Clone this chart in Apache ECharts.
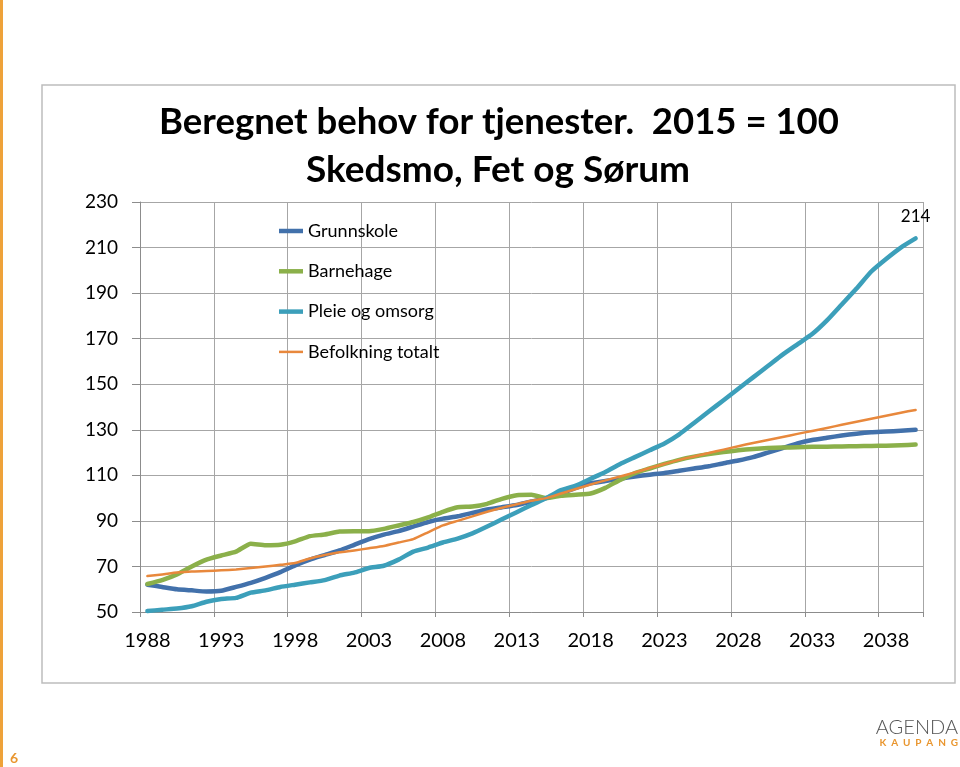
<!DOCTYPE html>
<html>
<head>
<meta charset="utf-8">
<script src="https://cdn.jsdelivr.net/npm/echarts@6/dist/echarts.min.js"></script>
<style>
html,body{margin:0;padding:0;background:#fff;}
#chart{width:960px;height:767px;}
</style>
</head>
<body>
<div id="chart"></div>
<script>
const years = [];
for (let y = 1988; y <= 2040; y++) years.push(String(y));

const yTicks = [50, 70, 90, 110, 130, 150, 170, 190, 210, 230];

const grunnskole = [62, 61, 60, 59.5, 59, 59.3, 61, 62.8, 65, 67.5, 70.5, 73, 75, 77, 79.5, 82, 84, 85.5, 87.5, 89.5,
  91, 92, 93.5, 95, 96, 97, 98.5, 100, 102, 104.5, 106.5, 107.5, 108.5, 109.5, 110.3, 111, 112, 113, 114, 115.3,
  116.5, 118, 120, 122, 124, 125.5, 126.5, 127.5, 128.3, 128.9, 129.2, 129.6, 130];

const barnehage = [62.3, 64, 66.5, 70, 73, 74.8, 76.5, 80, 79.3, 79.5, 81, 83.3, 84, 85.3, 85.5, 85.5, 86.5, 88, 89.5, 91.5,
  94, 96, 96.3, 97.5, 99.7, 101.3, 101.5, 100, 101, 101.5, 102, 104.5, 108, 111, 113, 115, 116.8, 118.2, 119.3, 120.2,
  121, 121.6, 122, 122.2, 122.3, 122.5, 122.6, 122.7, 122.8, 122.9, 123, 123.2, 123.5];

const pleie = [50.4, 51, 51.5, 52.5, 54.5, 55.7, 56.2, 58.5, 59.5, 61, 62, 63, 64, 66, 67.3, 69.3, 70.3, 73, 76.5, 78.3,
  80.5, 82.2, 84.5, 87.5, 90.7, 93.8, 97, 100, 103.5, 105.5, 108.5, 111.5, 115, 118, 121, 124, 128, 133, 138, 143,
  148, 153, 158, 163, 167.5, 172, 178, 185, 192, 199.5, 205, 210, 214];

const befolkning = [65.8, 66.5, 67.3, 67.8, 68, 68.3, 68.7, 69.3, 70, 70.7, 71.5, 73.5, 75, 76.2, 77, 78, 79, 80.5, 82, 85,
  88, 90, 92, 94, 95.8, 97.3, 98.8, 100, 102, 104, 106, 107.8, 109.5, 111.3, 113.2, 115, 116.8, 118.3, 119.8, 121.3,
  122.8, 124.2, 125.5, 126.8, 128.2, 129.5, 130.8, 132.2, 133.5, 134.8, 136.2, 137.5, 138.7];

const seriesNames = ['Grunnskole', 'Barnehage', 'Pleie og omsorg', 'Befolkning totalt'];
const titleLines = ['Beregnet behov for tjenester.  2015 = 100', 'Skedsmo, Fet og Sørum'];

const FONT = 'Lato, "Open Sans", sans-serif';
const colors = ['#4271ab', '#8bb04a', '#3c9fba', '#e8883c'];
const lineWidths = [4.5, 4.5, 4.5, 2.5];

const THICK_ICON = 'path://M0,0M24,14M0,4.75L24,4.75L24,9.25L0,9.25Z';
const THIN_ICON = 'path://M0,0M24,14M0,5.75L24,5.75L24,8.25L0,8.25Z';

const chart = echarts.init(document.getElementById('chart'), null, {renderer: 'canvas'});

function lineSeries(name, data, color, width, withEndLabel) {
  const last = data.length - 1;
  const s = {
    name: name,
    type: 'line',
    data: data,
    symbol: 'none',
    smooth: 0.15,
    color: color,
    lineStyle: {color: color, width: width, cap: 'round', join: 'round'},
    itemStyle: {color: color},
    emphasis: {disabled: true},
    z: 3
  };
  if (withEndLabel) {
    s.markPoint = {
      symbol: 'circle',
      symbolSize: 0,
      silent: true,
      data: [{
        coord: [years[last], data[last]],
        value: data[last],
        label: {show: true, position: 'top', distance: 13, formatter: '{c}', color: '#000', fontSize: 17, fontFamily: FONT}
      }]
    };
  }
  return s;
}

chart.setOption({
  animation: false,
  backgroundColor: '#fff',
  grid: {left: 140, right: 37, top: 202, bottom: 155, containLabel: false},
  legend: {
    orient: 'vertical',
    left: 274,
    top: 217,
    itemWidth: 24,
    itemHeight: 14,
    itemGap: 22.3,
    itemStyle: {borderWidth: 0},
    textStyle: {fontSize: 18, fontFamily: FONT, color: '#000'},
    data: seriesNames.map((n, i) => ({name: n, icon: lineWidths[i] > 3 ? THICK_ICON : THIN_ICON, itemStyle: {color: colors[i]}}))
  },
  xAxis: {
    type: 'category',
    data: years,
    boundaryGap: true,
    axisLine: {show: true, lineStyle: {color: '#8c8c8c', width: 1}},
    axisTick: {show: true, interval: 4, length: 5, lineStyle: {color: '#8c8c8c'}},
    axisLabel: {interval: 4, margin: 19, fontSize: 20, fontFamily: FONT, color: '#000'},
    splitLine: {show: true, interval: 4, lineStyle: {color: '#a6a6a6', width: 1}}
  },
  yAxis: {
    type: 'value',
    min: yTicks[0],
    max: yTicks[yTicks.length - 1],
    interval: 20,
    axisLine: {show: true, lineStyle: {color: '#8c8c8c', width: 1}},
    axisTick: {show: true, length: 8, lineStyle: {color: '#8c8c8c'}},
    axisLabel: {margin: 22, fontSize: 19, fontFamily: FONT, color: '#000'},
    splitLine: {show: true, lineStyle: {color: '#a6a6a6', width: 1}}
  },
  graphic: [
    {type: 'rect', shape: {x: 42, y: 85, width: 913, height: 598}, style: {fill: 'none', stroke: '#bdbdbd', lineWidth: 1.5}, z: -1},
    {type: 'rect', shape: {x: 0, y: 0, width: 3, height: 767}, style: {fill: '#eea23a'}},
    {type: 'text', x: 499, y: 122, style: {text: titleLines[0], font: 'bold 36.5px ' + FONT, fill: '#000', textAlign: 'center', textVerticalAlign: 'middle'}},
    {type: 'text', x: 498, y: 170, style: {text: titleLines[1], font: 'bold 37px ' + FONT, fill: '#000', textAlign: 'center', textVerticalAlign: 'middle'}},
    {type: 'text', x: 10, y: 758, style: {text: '6', font: 'bold 14px ' + FONT, fill: '#e9962f', textVerticalAlign: 'middle'}},
    {type: 'text', x: 958, y: 728, style: {text: 'AGENDA', font: '300 20px ' + FONT, fill: '#555', textAlign: 'right', textVerticalAlign: 'middle'}},
    {type: 'text', x: 958, y: 743, style: {text: 'K  A  U  P  A  N  G', font: 'bold 10px ' + FONT, fill: '#e9962f', textAlign: 'right', textVerticalAlign: 'middle'}}
  ],
  series: [
    lineSeries(seriesNames[0], grunnskole, colors[0], lineWidths[0], false),
    lineSeries(seriesNames[1], barnehage, colors[1], lineWidths[1], false),
    lineSeries(seriesNames[2], pleie, colors[2], lineWidths[2], true),
    lineSeries(seriesNames[3], befolkning, colors[3], lineWidths[3], false)
  ]
});
</script>
</body>
</html>
